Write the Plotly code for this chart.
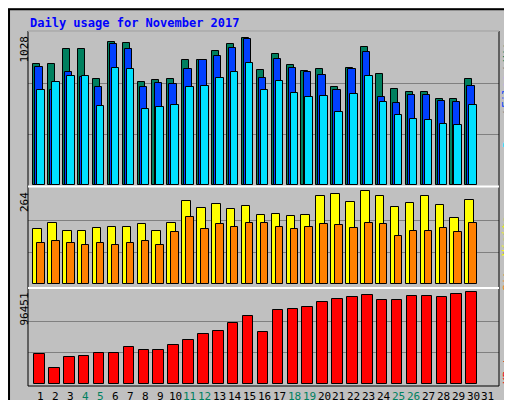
import plotly.graph_objects as go

days = list(range(1, 32))
hits = [815, 815, 916, 916, 715, 963, 956, 694, 708, 715, 842, 842, 903, 950, 990,
        775, 883, 809, 768, 782, 661, 788, 930, 748, 647, 627, 627, 580, 580, 715, None]
files = [795, 641, 762, 728, 661, 950, 916, 661, 688, 681, 782, 842, 869, 923, 983,
         721, 849, 788, 762, 741, 641, 782, 896, 594, 553, 607, 607, 567, 560, 668, None]
pages = [641, 694, 735, 735, 533, 788, 782, 513, 526, 540, 661, 668, 721, 762, 822,
         641, 701, 620, 594, 600, 493, 614, 735, 560, 473, 446, 439, 412, 405, 540, None]
visits = [150, 167, 147, 147, 153, 158, 158, 164, 147, 167, 228, 208, 219, 206, 214,
          189, 192, 186, 189, 242, 247, 225, 256, 242, 211, 222, 242, 217, 181, 231, None]
sites = [114, 119, 114, 108, 114, 106, 114, 117, 108, 142, 183, 150, 164, 158, 167,
         167, 158, 150, 156, 164, 161, 153, 169, 164, 133, 147, 147, 153, 142, 167, None]
kbytes = [31113, 16594, 28002, 29039, 32150, 32150, 38373, 35261, 35261, 40447,
          45632, 50818, 53929, 62226, 69486, 52892, 75708, 76745, 78820, 84005,
          87116, 89191, 91265, 86079, 86079, 90228, 90228, 89191, 92302, 94376, None]
weekend = [4, 5, 11, 12, 18, 19, 25, 26]
max_hits, max_visits, max_kb = 1028, 264, 96451

W, H = 512, 400
def py(p):  # pixel y -> paper y
    return 1 - p / H
def px(p):
    return p / W

fig = go.Figure()
line = dict(color="black", width=1)

def bars(vals, color, off, wid, xa, ya):
    fig.add_trace(go.Bar(x=days, y=vals, offset=off, width=wid, marker=dict(color=color, line=line),
                         xaxis=xa, yaxis=ya, showlegend=False))

bars(hits, "#00805F", -0.52, 0.47, "x", "y")
bars(files, "#0040FF", -0.38, 0.49, "x", "y")
bars(pages, "#00E0FF", -0.25, 0.50, "x", "y")
bars(visits, "#FFFF00", -0.52, 0.57, "x2", "y2")
bars(sites, "#FF8000", -0.25, 0.50, "x2", "y2")
bars(kbytes, "#FF0000", -0.45, 0.70, "x3", "y3")

xr = [0.128, 31.74]
xdom = [px(20), px(491)]
common_x = dict(range=xr, domain=xdom, showgrid=False, zeroline=False, showticklabels=False, fixedrange=True)
fig.update_layout(
    width=W, height=H, margin=dict(l=0, r=0, t=0, b=0),
    paper_bgcolor="#C0C0C0", plot_bgcolor="#C0C0C0", barmode="overlay", bargap=0,
    font=dict(family="DejaVu Sans Mono", size=11, color="black"),
    xaxis=dict(common_x, anchor="y"),
    xaxis2=dict(common_x, anchor="y2"),
    xaxis3=dict(common_x, anchor="y3"),
)
def yax(mx, d0, d1):
    return dict(range=[0, mx], domain=[py(d1), py(d0)], tickvals=[mx / 3, 2 * mx / 3],
                showticklabels=False, gridcolor="#808080", gridwidth=1, zeroline=False, fixedrange=True)
fig.update_layout(yaxis=yax(max_hits, 24, 177), yaxis2=yax(max_visits, 180, 276),
                  yaxis3=yax(max_kb, 282, 376))

shapes = [
    dict(type="rect", xref="paper", yref="paper", x0=0.002, x1=0.998, y0=0.003, y1=0.997,
         line=dict(color="black", width=2)),
    dict(type="rect", xref="paper", yref="paper", x0=px(20), x1=px(491), y0=py(378), y1=py(23),
         line=dict(color="black", width=1)),
    dict(type="line", xref="paper", yref="paper", x0=px(20), x1=px(491), y0=py(23), y1=py(23),
         line=dict(color="white", width=1)),
    dict(type="line", xref="paper", yref="paper", x0=px(20), x1=px(491), y0=py(178.5), y1=py(178.5),
         line=dict(color="white", width=2)),
    dict(type="line", xref="paper", yref="paper", x0=px(20), x1=px(491), y0=py(280), y1=py(280),
         line=dict(color="white", width=2)),
]
fig.update_layout(shapes=shapes)

ann = [
    dict(text="<b>Daily usage for November 2017</b>", x=px(20), y=py(15), xanchor="left", yanchor="middle",
         font=dict(color="#0000FF", size=12)),
    dict(text="1028", x=px(16), y=py(26), xanchor="center", yanchor="top", textangle=-90),
    dict(text="264", x=px(16), y=py(182), xanchor="center", yanchor="top", textangle=-90),
    dict(text="96451", x=px(16), y=py(283), xanchor="center", yanchor="top", textangle=-90),
]
# right-hand series labels, one word per annotation (bottom-up)
right = [("Hits", "#00805F", 41), ("/", "#808080", 62), ("Files", "#0040FF", 84), ("/", "#808080", 106),
         ("Pages", "#00E0FF", 124), ("Visits", "#FFFF00", 228), ("/", "#808080", 247), ("Sites", "#FF8000", 267),
         ("KBytes", "#FF0000", 356)]
for word, col, yc in right:
    ann.append(dict(text=word, x=px(499), y=py(yc), xanchor="center", yanchor="middle", textangle=-90,
                    font=dict(color=col, size=11)))
# day labels under the bottom panel
for d in days:
    ann.append(dict(text=str(d), x=d, xref="x3", y=py(388), xanchor="center", yanchor="middle",
                    font=dict(color="#00805F" if d in weekend else "black", size=11)))
for a in ann:
    a.setdefault("xref", "paper")
    a.update(yref="paper", showarrow=False)
fig.update_layout(annotations=ann)

fig.write_html("out.html")
